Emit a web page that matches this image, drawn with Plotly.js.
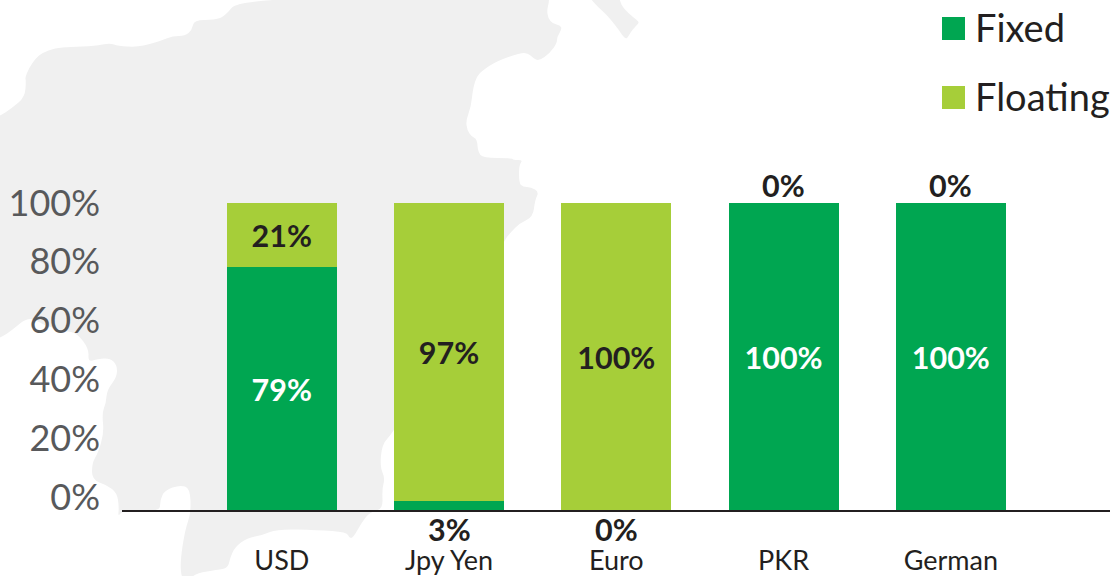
<!DOCTYPE html>
<html>
<head>
<meta charset="utf-8">
<script src="https://cdn.plot.ly/plotly-3.0.1.min.js"></script>
<style>html,body{margin:0;padding:0;background:#fff}#chart{width:1116px;height:576px}</style>
</head>
<body>
<div id="chart"></div>
<script>
const categories = ['USD', 'Jpy Yen', 'Euro', 'PKR', 'German'];
const fixedValues = [79, 3, 0, 100, 100];
const floatingValues = [21, 97, 100, 0, 0];
const yTickLabels = ['0%', '20%', '40%', '60%', '80%', '100%'];
// The printed scale is not aligned with the bars in the source: label heights in axis units
const yTickPositions = [4.2, 23.4, 42.6, 61.8, 81, 100];

const W = 1116, H = 576;
const FONT = 'Lato, Carlito, Calibri, sans-serif';
const GREEN = '#00a651', LIME = '#a6ce39', INK = '#231f20', GREY = '#58595b', MAP = '#f0f0f0';

// Decorative background map outline (page pixels)
const mapMain = [[0,116],[12,108],[25,97],[26,80],[25,78],[29,68],[36,58],[42,53],[55,48],[70,47],[95,46],[110,43],[118,46],[137,47],[150,44],[160,41],[173,36],[185,36],[192,30],[194,20],[215,20],[225,16],[238,0],
 [400,-4],[549,-4],[549,2],[547,10],[548,18],[553,24],[560,25],[562,29],[557,37],[557,43],[550,53],[539,61],[533,58],[528,53],[520,53],[497,61],[483,70],[477,76],[473,88],[471,107],[466,120],[467,130],[472,137],[477,139],[478,152],[483,158],[512,158],[513,160],[523,160],[519,165],[519,183],[523,187],[531,187],[539,192],[535,200],[533,217],[520,223],[510,233],[504,241],
 [450,340],[393,433],[382,444],[380,467],[385,478],[382,489],[383,509],[370,512],[362,522],[353,538],[349,538],[347,532],[317,530],[277,529],[263,535],[247,538],[235,547],[230,558],[228,568],[217,570],[197,573],[188,580],[182,580],[180,563],[185,530],[191,513],[190,488],[180,485],[165,490],[160,500],[160,512],[123,510],[118,517],[119,507],[117,493],[107,485],[92,480],[92,463],[98,453],[104,433],[102,413],[106,403],[107,390],[117,377],[117,365],[110,358],[97,359],[88,362],[89,349],[77,333],[65,331],[45,326],[29,316],[11,331],[0,338],[-4,338],[-4,116]];
const mapIsle = [[588,-4],[619,-4],[621,5],[628,13],[638,21],[639,23],[632,30],[628,37],[626,39],[622,35],[619,30],[607,15],[598,7]];

const px = x => (x / W).toFixed(5);
const py = y => (1 - y / H).toFixed(5);
function smoothPath(pts) {
  const mid = (a, b) => [(a[0] + b[0]) / 2, (a[1] + b[1]) / 2];
  const n = pts.length;
  const s = mid(pts[n - 1], pts[0]);
  let d = `M${px(s[0])},${py(s[1])}`;
  for (let i = 0; i < n; i++) {
    const m = mid(pts[i], pts[(i + 1) % n]);
    d += ` Q${px(pts[i][0])},${py(pts[i][1])} ${px(m[0])},${py(m[1])}`;
  }
  return d + ' Z';
}

const insideLabel = v => (v >= 10 ? v + '%' : '');

const traces = [
  {type: 'bar', name: 'Fixed', x: categories, y: fixedValues, marker: {color: GREEN, line: {width: 0}},
   text: fixedValues.map(insideLabel), textposition: 'inside', insidetextanchor: 'middle', textangle: 0,
   insidetextfont: {family: FONT, size: 30.5, color: '#ffffff', weight: 700}, constraintext: 'none', hoverinfo: 'x+y'},
  {type: 'bar', name: 'Floating', x: categories, y: floatingValues, marker: {color: LIME, line: {width: 0}},
   text: floatingValues.map(insideLabel), textposition: 'inside', insidetextanchor: 'middle', textangle: 0,
   insidetextfont: {family: FONT, size: 30.5, color: INK, weight: 700}, constraintext: 'none', hoverinfo: 'x+y'}
];

// Small or empty segments get their label outside the bar
const annotations = [];
const lbl = (x, y, yshift, text) => ({x, y, xref: 'x', yref: 'y', yshift, text: `<b>${text}</b>`, showarrow: false,
  xanchor: 'center', yanchor: 'middle', font: {family: FONT, size: 30.5, color: INK}});
categories.forEach((c, i) => {
  if (fixedValues[i] < 10) annotations.push(lbl(c, 0, -19, fixedValues[i] + '%'));
  if (floatingValues[i] < 10) annotations.push(lbl(c, fixedValues[i] + floatingValues[i], 18, floatingValues[i] + '%'));
});

// Legend
const legendItems = [{name: 'Fixed', color: GREEN, top: 17}, {name: 'Floating', color: LIME, top: 86}];
const shapes = [
  {type: 'path', path: smoothPath(mapMain), xref: 'paper', yref: 'paper', fillcolor: MAP, line: {width: 0}, layer: 'below'},
  {type: 'path', path: smoothPath(mapIsle), xref: 'paper', yref: 'paper', fillcolor: MAP, line: {width: 0}, layer: 'below'}
];
legendItems.forEach(it => {
  shapes.push({type: 'rect', xref: 'paper', yref: 'paper', x0: 942 / W, x1: 965 / W, y0: 1 - (it.top + 23) / H, y1: 1 - it.top / H,
    fillcolor: it.color, line: {width: 0}});
  annotations.push({xref: 'paper', yref: 'paper', x: 973 / W, y: 1 - (it.top + 10) / H, text: it.name, showarrow: false,
    xanchor: 'left', yanchor: 'middle', font: {family: FONT, size: 38, color: INK}});
});

const axisLeft = 122, axisRight = 1110, axisY = 510;
const pitch = 167.25, firstCenter = 281.8, pxPerUnit = 3.07;

const layout = {
  width: W, height: H,
  margin: {l: 0, r: 0, t: 0, b: 0, pad: 0},
  paper_bgcolor: '#ffffff', plot_bgcolor: 'rgba(0,0,0,0)',
  barmode: 'stack', bargap: 1 - 110 / pitch,
  showlegend: false,
  font: {family: FONT},
  xaxis: {
    domain: [axisLeft / W, axisRight / W],
    range: [(axisLeft - firstCenter) / pitch, (axisRight - firstCenter) / pitch],
    type: 'category', categoryorder: 'array', categoryarray: categories,
    showline: true, linecolor: INK, linewidth: 1.5, showgrid: false, zeroline: false,
    ticks: '', ticklabelstandoff: 26, automargin: false,
    tickfont: {family: FONT, size: 27, color: INK}
  },
  yaxis: {
    domain: [(H - axisY) / H, 1],
    range: [0, axisY / pxPerUnit],
    showline: false, showgrid: false, zeroline: false, ticks: '', automargin: false,
    tickmode: 'array', tickvals: yTickPositions, ticktext: yTickLabels,
    ticklabelstandoff: 21,
    tickfont: {family: FONT, size: 36, color: GREY}
  },
  shapes, annotations
};

Plotly.newPlot('chart', traces, layout, {displayModeBar: false, responsive: false});
</script>
</body>
</html>
